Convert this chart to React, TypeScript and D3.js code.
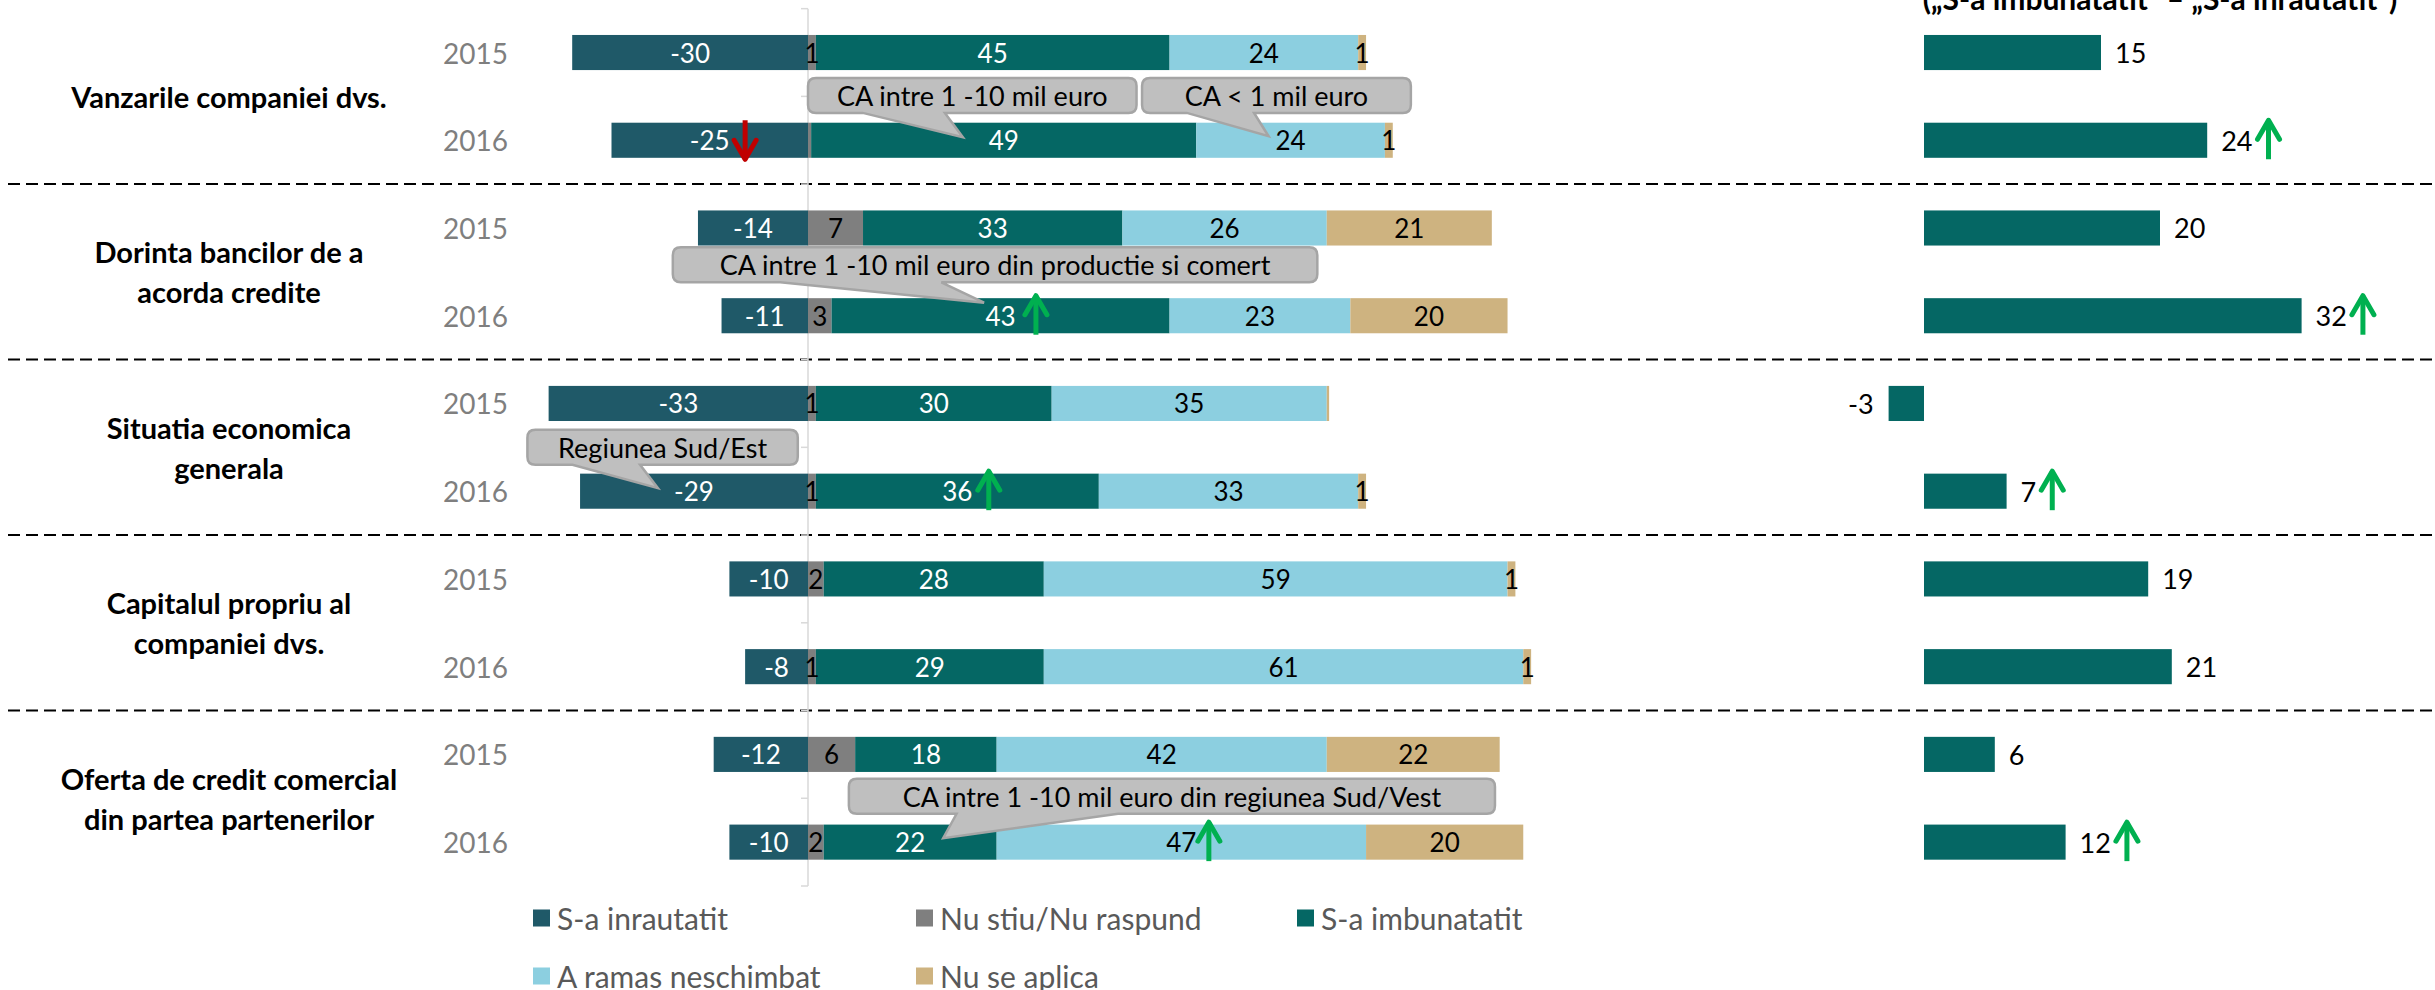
import React, { useEffect } from "react";
import * as d3 from "d3";

// ---------- data ----------
const CATEGORIES: string[][] = [
  ["Vanzarile companiei dvs."],
  ["Dorinta bancilor de a", "acorda credite"],
  ["Situatia economica", "generala"],
  ["Capitalul propriu al", "companiei dvs."],
  ["Oferta de credit comercial", "din partea partenerilor"],
];
const YEARS = ["2015", "2016"];
const SERIES = [
  "S-a inrautatit",
  "Nu stiu/Nu raspund",
  "S-a imbunatatit",
  "A ramas neschimbat",
  "Nu se aplica",
];
// one value per row: category x year (2015, 2016)
const WORSENED = [-30, -25, -14, -11, -33, -29, -10, -8, -12, -10];
const DONT_KNOW = [1, 0.4, 7, 3, 1, 1, 2, 1, 6, 2];
const IMPROVED = [45, 49, 33, 43, 30, 36, 28, 29, 18, 22];
const UNCHANGED = [24, 24, 26, 23, 35, 33, 59, 61, 42, 47];
const NOT_APPLICABLE = [1, 1, 21, 20, 0.3, 1, 1, 1, 22, 20];
const BALANCE = [15, 24, 20, 32, -3, 7, 19, 21, 6, 12];
const BALANCE_ARROWS = [null, "up", null, "up", null, "up", null, null, null, "up"];
const BALANCE_TITLE = "(„S-a imbunatatit” – „S-a inrautatit”)";

const MAIN_ARROWS = [
  { row: 1, at: -8, dir: "down" },
  { row: 3, at: 29, dir: "up" },
  { row: 5, at: 23, dir: "up" },
  { row: 9, at: 51, dir: "up" },
];

const CALLOUTS = [
  { text: "CA intre 1 -10 mil euro", boundary: 1, dy: -1, from: 0, to: 41.8, tipAt: 19.7, tipRow: 1, tipDy: -3 },
  { text: "CA < 1 mil euro", boundary: 1, dy: -1, from: 42.5, to: 76.7, tipAt: 58.6, tipRow: 1, tipDy: -4 },
  { text: "CA intre 1 -10 mil euro din productie si comert", boundary: 3, dy: -7, from: -17.2, to: 64.8, tipAt: 22.4, tipRow: 3, tipDy: -13 },
  { text: "Regiunea Sud/Est", boundary: 5, dy: 0, from: -35.7, to: -1.3, tipAt: -19.1, tipRow: 5, tipDy: -3 },
  { text: "CA intre 1 -10 mil euro din regiunea Sud/Vest", boundary: 9, dy: -2, from: 5.2, to: 87.4, tipAt: 17.2, tipRow: 9, tipDy: -4 },
];

const COLORS = ["#1f5968", "#7f7f7f", "#056764", "#8ccfe0", "#ceb380"];
const LABEL_COLORS = ["#ffffff", "#000000", "#ffffff", "#000000", "#000000"];

const FONT = "Lato, 'Open Sans', sans-serif";

function calloutPath(x0: number, y0: number, x1: number, y1: number, r: number, tx: number, ty: number) {
  const w = x1 - x0;
  const cx = (x0 + x1) / 2;
  const bx1 = tx < cx ? x0 + (w * 2) / 12 : x0 + (w * 7) / 12;
  const bx2 = tx < cx ? x0 + (w * 5) / 12 : x0 + (w * 10) / 12;
  return `M${x0 + r},${y0} H${x1 - r} Q${x1},${y0} ${x1},${y0 + r} V${y1 - r} Q${x1},${y1} ${x1 - r},${y1} H${bx2} L${tx},${ty} L${bx1},${y1} H${x0 + r} Q${x0},${y1} ${x0},${y1 - r} V${y0 + r} Q${x0},${y0} ${x0 + r},${y0} Z`;
}

function Arrow({ x, cy, dir }: { x: number; cy: number; dir: string }) {
  const up = dir === "up";
  const color = up ? "#00b050" : "#c00000";
  const tip = up ? cy - 20 : cy + 19;
  const tail = up ? cy + 19 : cy - 20;
  const s = up ? 1 : -1;
  return (
    <g stroke={color} fill="none" strokeWidth={5}>
      <path d={`M${x},${tail} V${tip}`} />
      <path d={`M${x - 11},${tip + s * 19} L${x},${tip} L${x + 11},${tip + s * 19}`} strokeLinecap="round" strokeLinejoin="round" />
    </g>
  );
}

export default function App() {
  useEffect(() => {
    document.body.style.margin = "0";
  }, []);

  const W = 2435;
  const H = 990;
  const nRows = CATEGORIES.length * YEARS.length;

  const x = d3.scaleLinear().domain([-40, 90]).range([808 - 40 * 7.86, 808 + 90 * 7.86]);
  const xr = d3.scaleLinear().domain([-10, 40]).range([1924 - 118, 1924 + 472]);
  const y = d3
    .scaleBand<number>()
    .domain(d3.range(nRows))
    .range([8.65, 886])
    .paddingInner(0.6)
    .paddingOuter(0.3);
  const step = y.step();
  const top = 8.65;
  const boundaryY = (i: number) => top + i * step;
  const cyOf = (i: number) => (y(i) as number) + y.bandwidth() / 2;

  const rows = d3.range(nRows).map((i) => ({
    i,
    s0: WORSENED[i],
    s1: DONT_KNOW[i],
    s2: IMPROVED[i],
    s3: UNCHANGED[i],
    s4: NOT_APPLICABLE[i],
  }));
  const keys = ["s0", "s1", "s2", "s3", "s4"];
  const stacked = d3.stack<any>().keys(keys).offset(d3.stackOffsetDiverging)(rows);

  const bh = y.bandwidth();

  return (
    <svg width={W} height={H} style={{ position: "absolute", left: 0, top: 0, background: "#fff" }} fontFamily={FONT}>
      {/* separators */}
      {[2, 4, 6, 8].map((b) => (
        <line key={b} x1={8} x2={2432} y1={boundaryY(b)} y2={boundaryY(b)} stroke="#000" strokeWidth={2} strokeDasharray="12 6" />
      ))}

      {/* zero axis */}
      <line x1={x(0)} x2={x(0)} y1={top} y2={boundaryY(nRows)} stroke="#d9d9d9" strokeWidth={1.5} />
      {d3.range(nRows + 1).map((b) => (
        <line key={b} x1={x(0) - 7} x2={x(0)} y1={boundaryY(b)} y2={boundaryY(b)} stroke="#d9d9d9" strokeWidth={1.5} />
      ))}

      {/* category labels */}
      {CATEGORIES.map((lines, c) => {
        const cy = (cyOf(c * 2) + cyOf(c * 2 + 1)) / 2;
        const lh = 40;
        return (
          <text key={c} x={229} textAnchor="middle" fontWeight={700} fontSize={29} fill="#000">
            {lines.map((l, k) => (
              <tspan key={k} x={229} y={cy + (k - (lines.length - 1) / 2) * lh} dominantBaseline="central">
                {l}
              </tspan>
            ))}
          </text>
        );
      })}

      {/* year labels */}
      {d3.range(nRows).map((i) => (
        <text key={i} x={508} y={cyOf(i)} textAnchor="end" dominantBaseline="central" fontSize={28} fill="#7f7f7f">
          {YEARS[i % 2]}
        </text>
      ))}

      {/* stacked bars */}
      {stacked.map((series, k) => (
        <g key={k}>
          {series.map((d, i) => {
            const x0 = x(Math.min(d[0], d[1]));
            const x1 = x(Math.max(d[0], d[1]));
            return <rect key={i} x={x0} y={y(i)} width={x1 - x0} height={bh} fill={COLORS[k]} />;
          })}
        </g>
      ))}
      {stacked.map((series, k) => (
        <g key={"l" + k}>
          {series.map((d, i) => {
            const v = (rows[i] as any)[keys[k]];
            if (Math.abs(v) < 0.5) return null;
            const cx = x((d[0] + d[1]) / 2);
            return (
              <text key={i} x={cx} y={cyOf(i)} textAnchor="middle" dominantBaseline="central" fontSize={26} fill={LABEL_COLORS[k]}>
                {Math.round(v)}
              </text>
            );
          })}
        </g>
      ))}

      {/* callouts */}
      {CALLOUTS.map((c, k) => {
        const cy = boundaryY(c.boundary) + c.dy;
        const y0 = cy - 17.5;
        const y1 = cy + 17.5;
        const x0 = x(c.from);
        const x1 = x(c.to);
        return (
          <g key={k}>
            <path d={calloutPath(x0, y0, x1, y1, 8, x(c.tipAt), cyOf(c.tipRow) + c.tipDy)} fill="#bfbfbf" stroke="#a5a5a5" strokeWidth={2.5} />
            <text x={(x0 + x1) / 2} y={cy} textAnchor="middle" dominantBaseline="central" fontSize={27} fill="#000">
              {c.text}
            </text>
          </g>
        );
      })}

      {/* arrows in main panel */}
      {MAIN_ARROWS.map((a, k) => (
        <Arrow key={k} x={x(a.at)} cy={cyOf(a.row)} dir={a.dir} />
      ))}

      {/* balance panel */}
      <text x={2160} y={10} textAnchor="middle" fontWeight={700} fontSize={30} fill="#000">
        {BALANCE_TITLE}
      </text>
      {BALANCE.map((v, i) => {
        const x0 = xr(Math.min(0, v));
        const x1 = xr(Math.max(0, v));
        const lx = v >= 0 ? x1 + 14 : x0 - 15;
        const txt = String(v);
        const tw = txt.length * 0.58 * 27;
        return (
          <g key={i}>
            <rect x={x0} y={y(i)} width={x1 - x0} height={bh} fill="#056764" />
            <text x={lx} y={cyOf(i)} textAnchor={v >= 0 ? "start" : "end"} dominantBaseline="central" fontSize={27} fill="#000">
              {txt}
            </text>
            {BALANCE_ARROWS[i] && <Arrow x={lx + tw + 16} cy={cyOf(i)} dir={BALANCE_ARROWS[i] as string} />}
          </g>
        );
      })}

      {/* legend */}
      {SERIES.map((s, k) => {
        const lx = [533, 916, 1297][k % 3];
        const ly = [918, 976][Math.floor(k / 3)];
        return (
          <g key={k}>
            <rect x={lx} y={ly - 8.5} width={17} height={17} fill={COLORS[k]} />
            <text x={lx + 24} y={ly} dominantBaseline="central" fontSize={30} fill="#595959">
              {s}
            </text>
          </g>
        );
      })}
    </svg>
  );
}
